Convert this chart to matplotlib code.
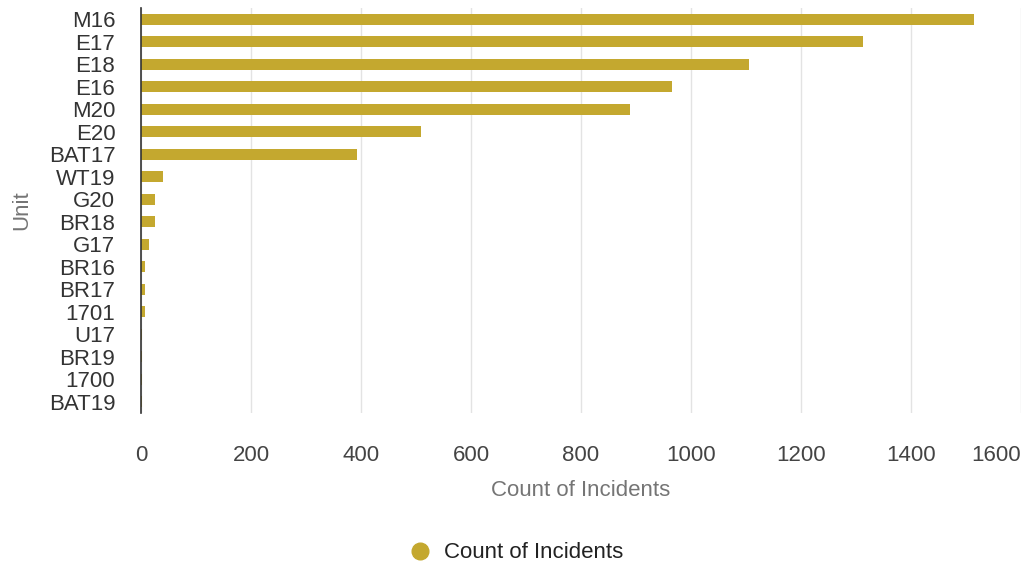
import matplotlib
matplotlib.use("Agg")
import matplotlib.pyplot as plt
from matplotlib.lines import Line2D

plt.rcParams['font.family'] = ['Liberation Sans', 'DejaVu Sans']

units = ["M16", "E17", "E18", "E16", "M20", "E20", "BAT17", "WT19", "G20",
         "BR18", "G17", "BR16", "BR17", "1701", "U17", "BR19", "1700", "BAT19"]
counts = [1514, 1313, 1106, 966, 889, 509, 393, 40, 25, 25, 15, 8, 8, 8, 1, 1, 1, 1]
xticks = [0, 200, 400, 600, 800, 1000, 1200, 1400, 1600]

gold = "#C4A82F"

fig = plt.figure(figsize=(10.25, 5.63), dpi=100)
ax = fig.add_axes([0.1376, 0.2664, 0.8584, 0.7194])

ypos = list(range(len(units)))
ax.barh(ypos, counts, height=0.5, color=gold, linewidth=0, zorder=3)

ax.set_ylim(len(units) - 0.5, -0.5)
ax.set_xlim(0, 1600)
ax.set_yticks(ypos)
ax.set_yticklabels(units, fontsize=16, color="#333333")
ax.set_xticks(xticks)
ax.set_xticklabels([str(t) for t in xticks], fontsize=16, color="#444444")
ax.get_xticklabels()[-1].set_ha("right")
ax.tick_params(axis="both", length=0)
ax.tick_params(axis="x", pad=23)
ax.tick_params(axis="y", pad=18.5)

ax.grid(axis="x", color="#e3e3e3", linewidth=1, zorder=0)
for s in ["top", "right", "bottom"]:
    ax.spines[s].set_visible(False)
ax.spines["left"].set_color("#333333")
ax.spines["left"].set_linewidth(1.2)
ax.spines["left"].set_zorder(4)

ax.set_xlabel("Count of Incidents", fontsize=16, color="#757575")
ax.xaxis.set_label_coords(0.5, (413 - 490) / 405)
ax.xaxis.label.set_va("center")
ax.set_ylabel("Unit", fontsize=16, color="#757575")
ax.yaxis.set_label_coords((22 - 141) / 880, 0.5)
ax.yaxis.label.set_va("center")

handle = Line2D([], [], marker="o", linestyle="none", markersize=12,
                markerfacecolor=gold, markeredgecolor=gold)
fig.legend([handle], ["Count of Incidents"], loc="center", bbox_to_anchor=(0.498, 0.018),
           frameon=False, fontsize=16, handletextpad=0.05, labelcolor="#222222")

fig.savefig("out.png", dpi=100)
